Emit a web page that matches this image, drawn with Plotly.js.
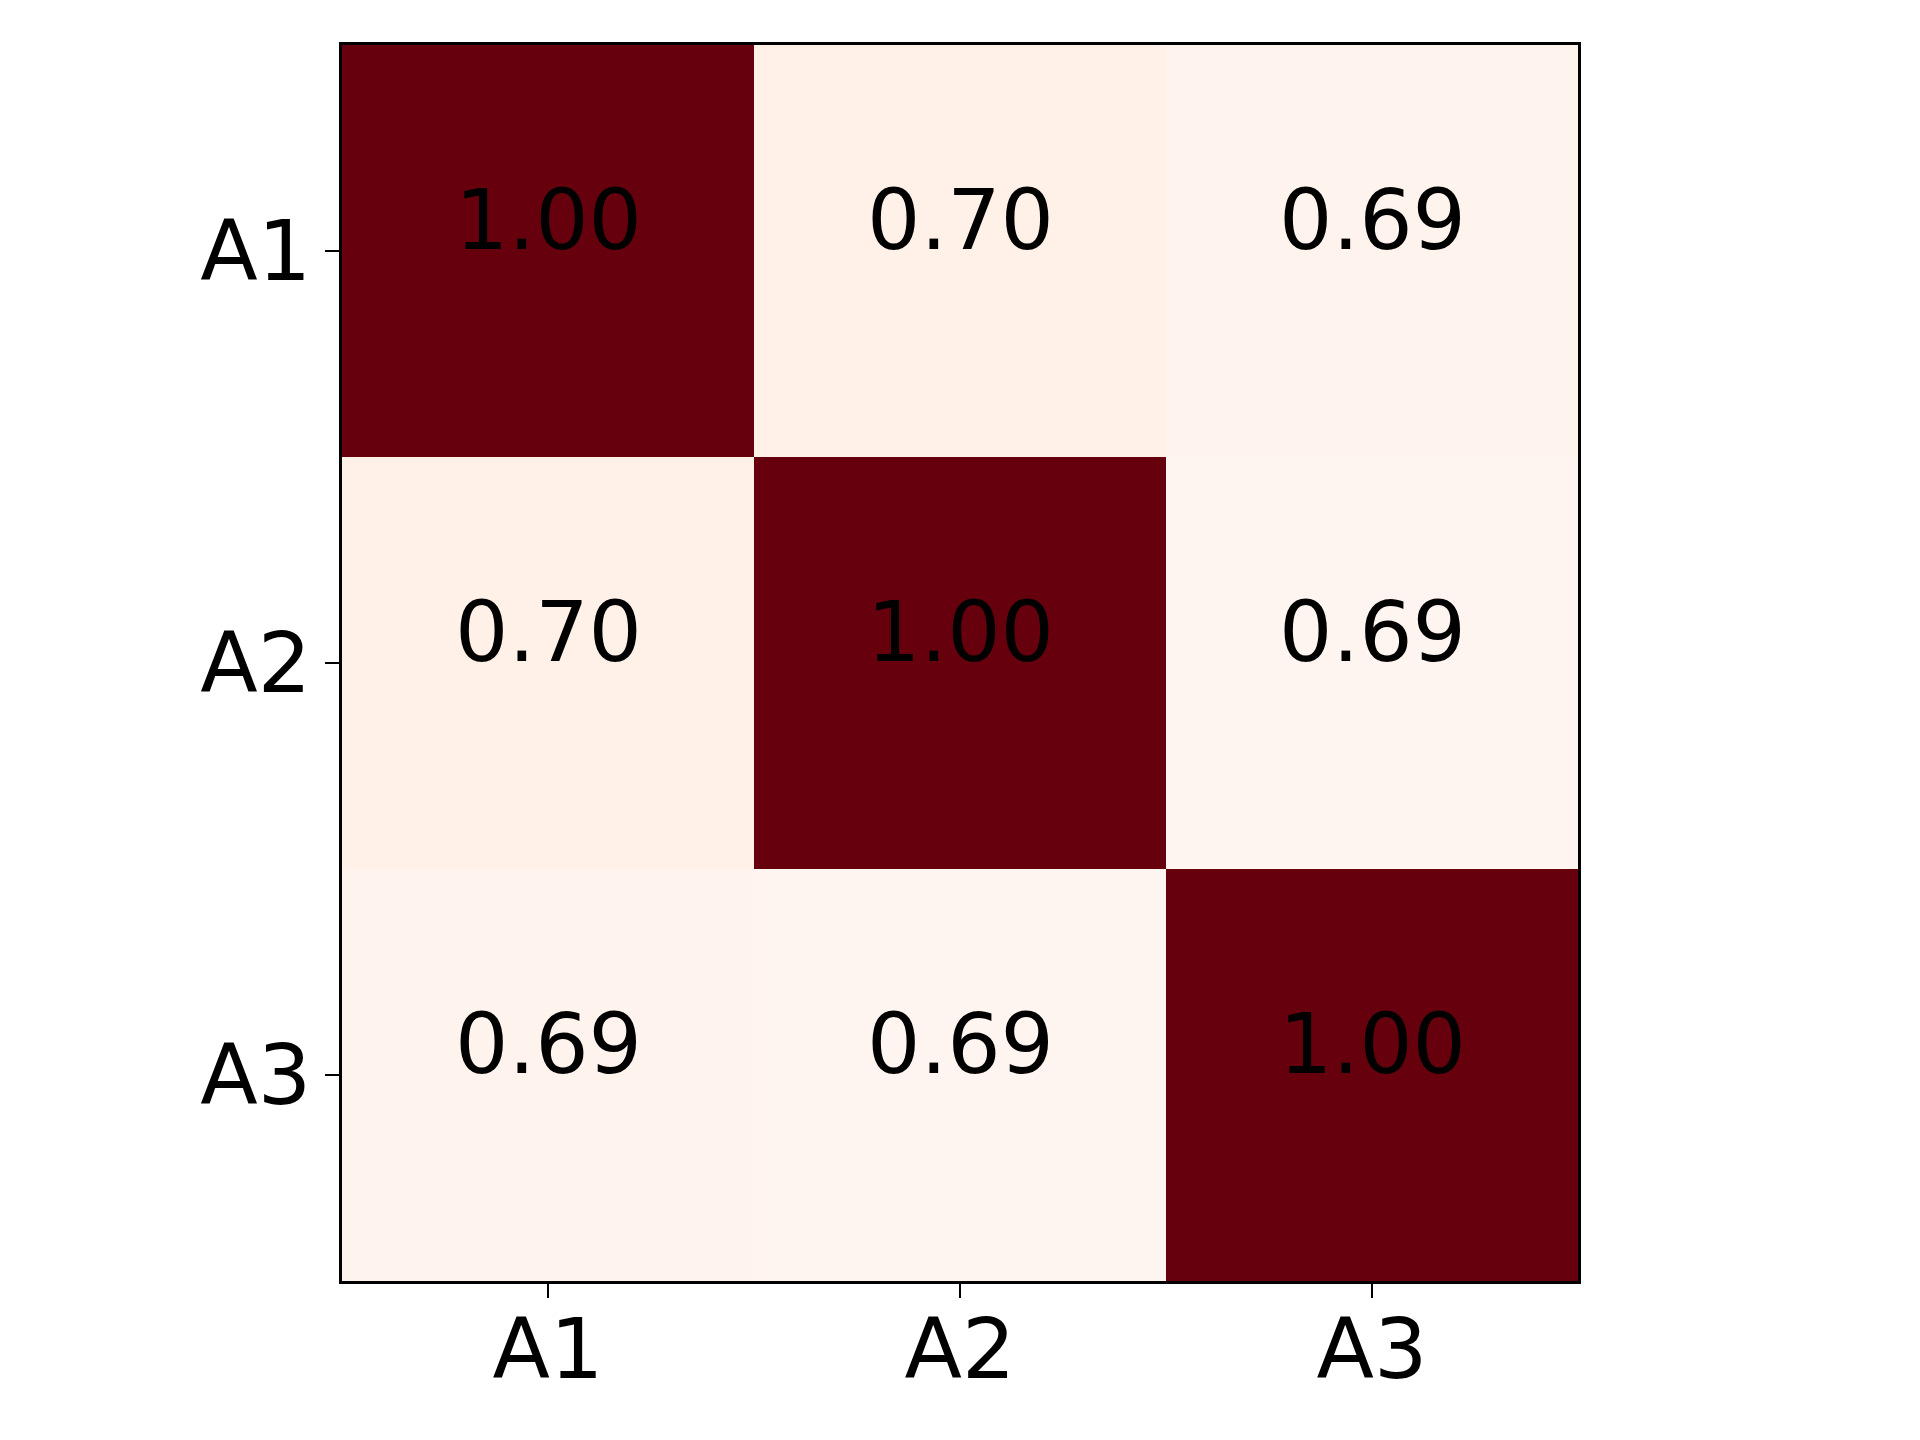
<!DOCTYPE html>
<html>
<head>
<meta charset="utf-8">
<script src="https://cdn.plot.ly/plotly-3.0.1.min.js"></script>
<style>
  html, body { margin: 0; padding: 0; background: #fff; }
  #chart { width: 1920px; height: 1440px; }
</style>
</head>
<body>
<div id="chart"></div>
<script>
// Correlation matrix values
const labels = ['A1', 'A2', 'A3'];
const row1 = [1.00, 0.699, 0.693];
const row2 = [0.699, 1.00, 0.689];
const row3 = [0.693, 0.689, 1.00];
const matrix = [row1, row2, row3];

// matplotlib "Reds" colormap
const redsScale = [
    [0.0, '#fff5f0'], [0.125, '#fee0d2'], [0.25, '#fcbba1'],
    [0.375, '#fc9272'], [0.5, '#fb6a4a'], [0.625, '#ef3b2c'],
    [0.75, '#cb181d'], [0.875, '#a50f15'], [1.0, '#67000d']
];

const fontFamily = 'DejaVu Sans, sans-serif';

const heat = {
    type: 'heatmap',
    x: labels,
    y: labels,
    z: matrix,
    colorscale: redsScale,
    showscale: false,
    xgap: 0,
    ygap: 0,
    hoverinfo: 'x+y+z'
};

// Cell labels, baseline placed on cell centre like matplotlib text
const annotations = [];
matrix.forEach((row, i) => {
    row.forEach((v, j) => {
        annotations.push({
            x: labels[j],
            y: labels[i],
            text: v.toFixed(2),
            showarrow: false,
            xanchor: 'center',
            yanchor: 'bottom',
            yshift: -20,
            font: { family: fontFamily, size: 84, color: '#000000' }
        });
    });
});

const layout = {
    width: 1920,
    height: 1440,
    margin: { l: 342, r: 342, t: 45, b: 159, pad: 0 },
    paper_bgcolor: '#ffffff',
    plot_bgcolor: '#ffffff',
    font: { family: fontFamily, size: 84, color: '#000000' },
    xaxis: {
        type: 'category',
        showgrid: false,
        zeroline: false,
        showline: true,
        linecolor: '#000000',
        linewidth: 3,
        mirror: true,
        ticks: 'outside',
        ticklen: 14,
        tickwidth: 2.5,
        tickcolor: '#000000',
        ticklabelstandoff: -21,
        tickfont: { family: fontFamily, size: 84, color: '#000000' }
    },
    yaxis: {
        type: 'category',
        autorange: 'reversed',
        showgrid: false,
        zeroline: false,
        showline: true,
        linecolor: '#000000',
        linewidth: 3,
        mirror: true,
        ticks: 'outside',
        ticklen: 14,
        tickwidth: 2.5,
        tickcolor: '#000000',
        ticklabelstandoff: -3,
        tickfont: { family: fontFamily, size: 84, color: '#000000' }
    },
    annotations: annotations
};

Plotly.newPlot('chart', [heat], layout, { displayModeBar: false, staticPlot: true });
</script>
</body>
</html>
